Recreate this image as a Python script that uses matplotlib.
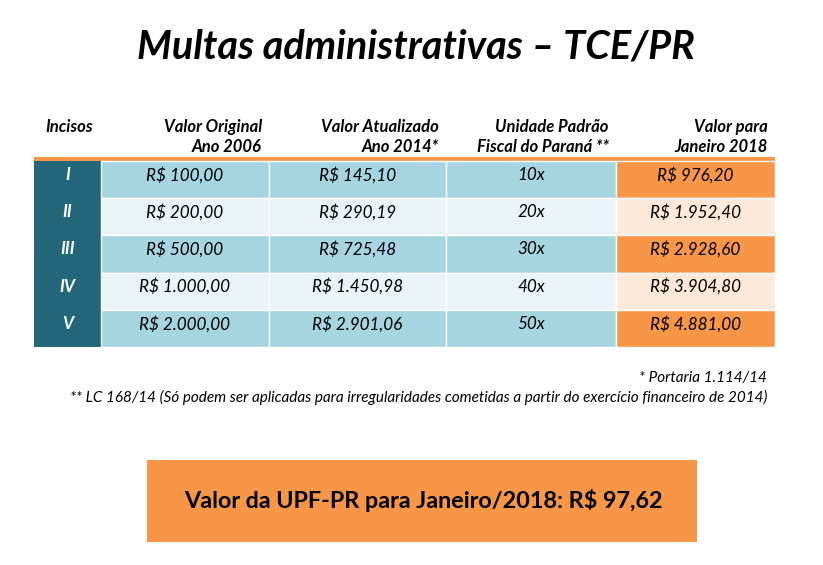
import matplotlib
matplotlib.use("Agg")
import matplotlib.pyplot as plt
from matplotlib.patches import Rectangle

incisos = ["I", "II", "III", "IV", "V"]
valor_original = [100.00, 200.00, 500.00, 1000.00, 2000.00]
valor_atualizado = [145.10, 290.19, 725.48, 1450.98, 2901.06]
upf_mult = [10, 20, 30, 40, 50]
valor_2018 = [976.20, 1952.40, 2928.60, 3904.80, 4881.00]
headers = [["Incisos"], ["Valor Original", "Ano 2006"], ["Valor Atualizado", "Ano 2014*"],
           ["Unidade Padrão", "Fiscal do Paraná **"], ["Valor para", "Janeiro 2018"]]
upf_valor = 97.62

def brl(v):
    s = f"{v:,.2f}".replace(",", "X").replace(".", ",").replace("X", ".")
    return "R$ " + s

FONT = ["Lato", "DejaVu Sans"]
fig = plt.figure(figsize=(8.23, 5.65), dpi=100)
ax = fig.add_axes([0, 0, 1, 1])
ax.set_xlim(0, 823); ax.set_ylim(565, 0); ax.axis("off")

ax.text(416, 47, "Multas administrativas – TCE/PR", ha="center", va="center",
        fontsize=28.5, fontweight="bold", style="italic", family=FONT)

cols = [34, 101, 269, 446, 616, 775]
hx = [45, 262, 439, 609, 768]
for i, h in enumerate(headers):
    ha = "left" if i == 0 else "right"
    for j, line in enumerate(h):
        ax.text(hx[i], 127 + 20 * j, line, ha=ha, va="center", fontsize=12,
                fontweight="bold", style="italic", family=FONT)

ax.add_patch(Rectangle((34, 157), 741, 4, color="#F79646", lw=0))
rh = 37.2
y0 = 161
for r in range(len(incisos)):
    y = y0 + r * rh
    light = r % 2 == 0
    ax.add_patch(Rectangle((cols[0], y), cols[1] - cols[0], rh, color="#25677A", lw=0))
    for c in range(1, 4):
        ax.add_patch(Rectangle((cols[c], y), cols[c + 1] - cols[c], rh,
                               facecolor="#A6D4E0" if light else "#EAF3F7",
                               edgecolor="white", lw=1))
    ax.add_patch(Rectangle((cols[4], y), cols[5] - cols[4], rh,
                           facecolor="#F79646" if light else "#FDE9D9",
                           edgecolor="white", lw=1))
    vals = [incisos[r], brl(valor_original[r]), brl(valor_atualizado[r]),
            f"{upf_mult[r]}x", brl(valor_2018[r])]
    for c, v in enumerate(vals):
        xc = (cols[c] + cols[c + 1]) / 2
        ax.text(xc, y + 14, v, ha="center", va="center", fontsize=12.3,
                style="italic", fontweight="bold" if c == 0 else "normal",
                color="white" if c == 0 else "black", family=FONT)

ax.text(767, 378, "* Portaria 1.114/14", ha="right", va="center", fontsize=11,
        style="italic", family=FONT)
ax.text(767, 397, "** LC 168/14 (Só podem ser aplicadas para irregularidades cometidas a partir do exercício financeiro de 2014)",
        ha="right", va="center", fontsize=11, style="italic", family=FONT)

ax.add_patch(Rectangle((147, 460), 550, 82, color="#F79646", lw=0))
ax.text(423, 500, f"Valor da UPF-PR para Janeiro/2018: {brl(upf_valor)}", ha="center",
        va="center", fontsize=16.8, fontweight="bold", family=FONT)

fig.savefig("out.png", dpi=100, facecolor="white")
